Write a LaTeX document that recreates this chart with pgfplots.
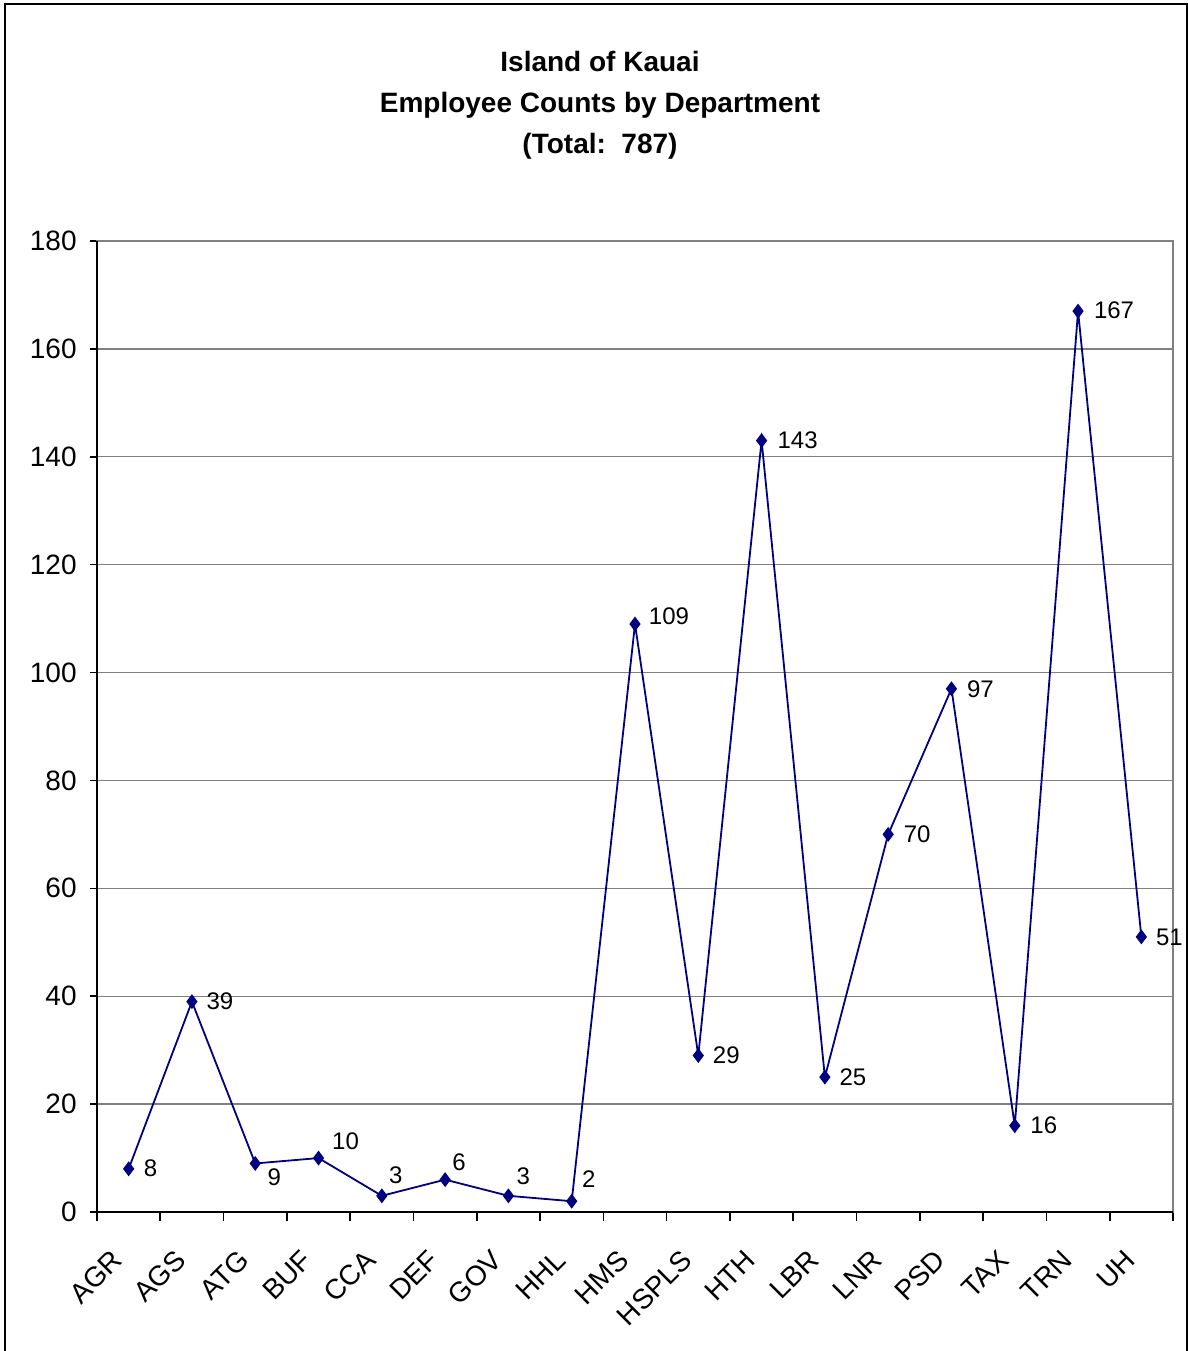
\documentclass[border=0pt]{standalone}
\usepackage{fontspec}
\setmainfont{Liberation Sans}
\usepackage{pgfplots}
\usepackage{pgfplotstable}
\pgfplotsset{compat=1.18}
\definecolor{Navy}{RGB}{0,0,128}
\definecolor{GridGray}{RGB}{128,128,128}

% idx, employees, label offset (pt) from the point
\pgfplotstableread{
idx val dx dy
0  8    11   0.5
1  39   14   0
2  9    9.5  -7
3  10   13.5 8.5
4  3    7    10.5
5  6    7    8.5
6  3    7.5  10
7  2    8.5  11
8  109  17   4
9  29   14   0
10 143  18   0
11 25   14   0
12 70   14.5 0
13 97   14.5 0
14 16   14.5 0
15 167  18   0.5
16 51   14   0
}\kauai

\begin{document}
\begin{tikzpicture}
  \useasboundingbox (-48.5pt,-69.5pt) rectangle (545.5pt,606pt);
  \draw[black, line width=1pt] (-46pt,-69.5pt) -- (-46pt,604pt) -- (545pt,604pt) -- (545pt,-69.5pt);
  \node[align=center, font=\bfseries\fontsize{14}{20.5}\selectfont] at (251.5pt,553.5pt)
    {Island of Kauai\\Employee Counts by Department\\(Total:\ \ 787)};
  \begin{axis}[
    scale only axis,
    width=538pt, height=485.5pt,
    xmin=-0.5, xmax=16.5,
    ymin=0, ymax=180,
    ytick={0,20,...,180},
    xtick={0,...,16},
    xticklabels={AGR,AGS,ATG,BUF,CCA,DEF,GOV,HHL,HMS,HSPLS,HTH,LBR,LNR,PSD,TAX,TRN,UH},
    minor xtick={-0.5,0.5,...,16.5},
    tick pos=left,
    tick align=outside,
    major tick length=3.5pt,
    minor tick length=4.5pt,
    major x tick style={draw=none},
    minor x tick style={black, line width=0.8pt},
    major y tick style={black, line width=0.8pt},
    ymajorgrids,
    grid style={GridGray, line width=0.7pt},
    axis line style={GridGray, line width=0.9pt},
    /pgf/number format/assume math mode=true,
    ticklabel style={font=\fontsize{14}{16}\selectfont},
    yticklabel style={anchor=east, inner sep=0pt, xshift=-6.5pt},
    xticklabel style={xshift=-5.5pt, yshift=-18pt, rotate=45, anchor=east, inner sep=0pt},
    clip=false,
  ]
    \draw[black, line width=1pt] (rel axis cs:0,1) -- (rel axis cs:0,0) -- (rel axis cs:1,0);
    \addplot[Navy, line width=0.9pt, mark=diamond*, mark size=3pt,
      mark options={solid, fill=Navy},
      nodes near coords,
      visualization depends on={\thisrow{dx} \as \dx},
      visualization depends on={\thisrow{dy} \as \dy},
      every node near coord/.append style={anchor=center, black,
        font=\fontsize{12}{14}\selectfont, xshift=\dx pt, yshift=\dy pt},
    ] table[x=idx, y=val] {\kauai};
  \end{axis}
\end{tikzpicture}
\end{document}
